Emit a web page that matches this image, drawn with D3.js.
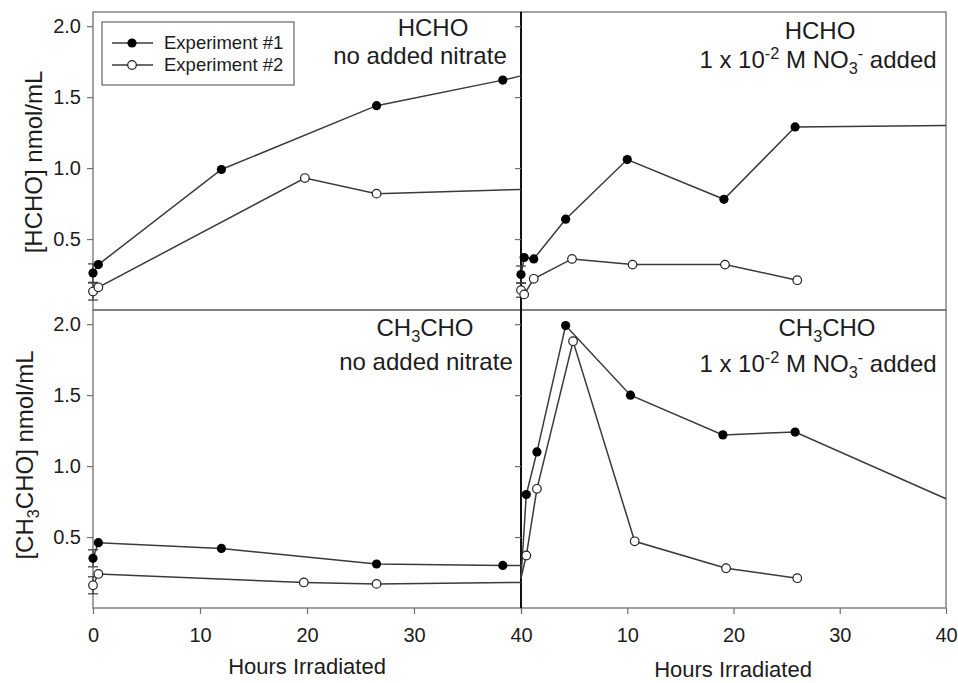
<!DOCTYPE html>
<html>
<head>
<meta charset="utf-8">
<script src="https://cdn.jsdelivr.net/npm/d3@7"></script>
<style>
  body { margin: 0; background: #fff; }
  svg { font-family: "Liberation Sans", Arial, sans-serif; }
</style>
</head>
<body>
<svg width="958" height="683"></svg>
<script>
// ---- data (hours, nmol/mL) ----
var hourTicks = [0, 10, 20, 30, 40];
var concTicks = [0.5, 1.0, 1.5, 2.0];
var seriesNames = ["Experiment #1", "Experiment #2"];

// HCHO, no added nitrate
var hchoPlainExp1 = [[0, 0.26], [0.5, 0.32], [12, 0.99], [26.5, 1.44], [38.3, 1.62]];
var hchoPlainExp2 = [[0, 0.13], [0.5, 0.16], [19.8, 0.93], [26.5, 0.82]];
var hchoPlainExp1Edge = [[40, 1.65]];
var hchoPlainExp2Edge = [[40, 0.85]];
var hchoPlainErr = [0.065, 0.06];

// HCHO, nitrate added
var hchoNitrateExp1 = [[0, 0.25], [0.3, 0.37], [1.2, 0.36], [4.2, 0.64], [10, 1.06], [19.1, 0.78], [25.8, 1.29]];
var hchoNitrateExp2 = [[0, 0.14], [0.3, 0.11], [1.2, 0.22], [4.8, 0.36], [10.5, 0.32], [19.2, 0.32], [26, 0.21]];
var hchoNitrateExp1Edge = [[40, 1.30]];
var hchoNitrateErr = [0.06, 0.05];

// CH3CHO, no added nitrate
var acetPlainExp1 = [[0, 0.35], [0.5, 0.46], [12, 0.42], [26.5, 0.31], [38.3, 0.30]];
var acetPlainExp2 = [[0, 0.16], [0.5, 0.24], [19.7, 0.18], [26.5, 0.17]];
var acetPlainExp1Edge = [[40, 0.30]];
var acetPlainExp2Edge = [[40, 0.18]];
var acetPlainErr = [0.06, 0.06];

// CH3CHO, nitrate added
var acetNitrateLead = [[0, 0.21]];
var acetNitrateExp1 = [[0.5, 0.80], [1.5, 1.10], [4.2, 1.99], [10.3, 1.50], [19, 1.22], [25.8, 1.24]];
var acetNitrateExp2 = [[0.5, 0.37], [1.5, 0.84], [4.9, 1.88], [10.7, 0.47], [19.3, 0.28], [26, 0.21]];
var acetNitrateExp1Edge = [[40, 0.77]];

var svg = d3.select("svg");
var ink = "#1c1c1c", lineCol = "#3a3a3a", frameCol = "#707070";

// scales
var xLeft = d3.scaleLinear().domain([0, 40]).range([93, 521]);
var xRight = d3.scaleLinear().domain([0, 40]).range([521, 946]);
var yTop = d3.scaleLinear().domain([0, 2.1]).range([310, 12]);
var yBot = d3.scaleLinear().domain([0, 2.1]).range([608, 310]);

var panels = [
  {x: xLeft, y: yTop, s1: hchoPlainExp1, s2: hchoPlainExp2, e1: hchoPlainExp1Edge, e2: hchoPlainExp2Edge, lead: [], err: hchoPlainErr},
  {x: xRight, y: yTop, s1: hchoNitrateExp1, s2: hchoNitrateExp2, e1: hchoNitrateExp1Edge, e2: [], lead: [], err: hchoNitrateErr},
  {x: xLeft, y: yBot, s1: acetPlainExp1, s2: acetPlainExp2, e1: acetPlainExp1Edge, e2: acetPlainExp2Edge, lead: [], err: acetPlainErr},
  {x: xRight, y: yBot, s1: acetNitrateExp1, s2: acetNitrateExp2, e1: acetNitrateExp1Edge, e2: [], lead: acetNitrateLead, err: null}
];

// frames
panels.forEach(function(p){
  svg.append("rect")
    .attr("x", p.x.range()[0]).attr("y", p.y.range()[1])
    .attr("width", p.x.range()[1] - p.x.range()[0])
    .attr("height", p.y.range()[0] - p.y.range()[1])
    .attr("fill", "none").attr("stroke", frameCol).attr("stroke-width", 1.3);
});
// darker divider between left and right
svg.append("line").attr("x1", 521).attr("x2", 521).attr("y1", 12).attr("y2", 608)
  .attr("stroke", "#111").attr("stroke-width", 2);

// axes
function styleAxis(g){
  g.select(".domain").remove();
  g.selectAll(".tick line").attr("stroke", frameCol).attr("stroke-width", 1.2);
  g.selectAll(".tick text").attr("fill", ink).style("font-size", "20px")
    .style("font-family", "'Liberation Sans', Arial, sans-serif");
}
panels.forEach(function(p, i){
  var left = p.x === xLeft;
  var ya = d3.axisLeft(p.y).tickValues(concTicks).tickSize(6).tickPadding(6)
    .tickFormat(left ? d3.format(".1f") : "");
  svg.append("g").attr("transform", "translate(" + p.x.range()[0] + ",0)").call(ya).call(styleAxis);
  if (i >= 2) {
    var xa = d3.axisBottom(p.x).tickValues(hourTicks).tickSize(6).tickPadding(14)
      .tickFormat(function(d){ return (!left && d === 0) ? "" : d; });
    svg.append("g").attr("transform", "translate(0," + p.y.range()[0] + ")").call(xa).call(styleAxis);
  }
});

// series
panels.forEach(function(p){
  var line = d3.line().x(function(d){ return p.x(d[0]); }).y(function(d){ return p.y(d[1]); });
  var path1 = p.lead.concat(p.s1, p.e1), path2 = p.lead.concat(p.s2, p.e2);
  [path2, path1].forEach(function(d){
    svg.append("path").datum(d).attr("d", line)
      .attr("fill", "none").attr("stroke", lineCol).attr("stroke-width", 1.5);
  });
  // error bars on the first sample
  if (p.err) {
    [p.s1[0], p.s2[0]].forEach(function(d, k){
      var cx = p.x(d[0]), lo = p.y(d[1] - p.err[k]), hi = p.y(d[1] + p.err[k]);
      var g = svg.append("g").attr("stroke", lineCol).attr("stroke-width", 1.2);
      g.append("line").attr("x1", cx).attr("x2", cx).attr("y1", lo).attr("y2", hi);
      g.append("line").attr("x1", cx - 5).attr("x2", cx + 5).attr("y1", lo).attr("y2", lo);
      g.append("line").attr("x1", cx - 5).attr("x2", cx + 5).attr("y1", hi).attr("y2", hi);
    });
  }
  svg.append("g").selectAll("circle").data(p.s2).enter().append("circle")
    .attr("cx", function(d){ return p.x(d[0]); }).attr("cy", function(d){ return p.y(d[1]); })
    .attr("r", 4.3).attr("fill", "#fff").attr("stroke", "#222").attr("stroke-width", 1.2);
  svg.append("g").selectAll("circle").data(p.s1).enter().append("circle")
    .attr("cx", function(d){ return p.x(d[0]); }).attr("cy", function(d){ return p.y(d[1]); })
    .attr("r", 4.6).attr("fill", "#000");
});

// rich text helper: segments with optional sub / sup
function rich(x, y, segs, size, anchor, rotate){
  var t = svg.append("text").attr("fill", ink).style("font-size", size + "px")
    .attr("text-anchor", anchor || "middle");
  if (rotate) t.attr("transform", "translate(" + x + "," + y + ") rotate(-90)");
  else t.attr("x", x).attr("y", y);
  var cur = 0;
  segs.forEach(function(s){
    var shift = s.sub ? 6 : (s.sup ? -9 : 0);
    t.append("tspan").attr("dy", shift - cur)
      .style("font-size", (s.sub || s.sup) ? (size * 0.68) + "px" : size + "px")
      .text(s.t);
    cur = shift;
  });
  return t;
}
var nitrateLine = [{t: "1 x 10"}, {t: "-2", sup: true}, {t: " M NO"}, {t: "3", sub: true}, {t: "-", sup: true}, {t: " added"}];
var acetName = [{t: "CH"}, {t: "3", sub: true}, {t: "CHO"}];

rich(433, 36, [{t: "HCHO"}], 24);
rich(420, 64, [{t: "no added nitrate"}], 24);
rich(820, 39, [{t: "HCHO"}], 24);
rich(818, 68, nitrateLine, 24);
rich(425, 336, acetName, 24);
rich(426, 370, [{t: "no added nitrate"}], 24);
rich(827, 336, acetName, 24);
rich(818, 372, nitrateLine, 24);

// axis titles
rich(42, 162, [{t: "[HCHO] nmol/mL"}], 24, "middle", true);
rich(33, 455, [{t: "[CH"}, {t: "3", sub: true}, {t: "CHO]  nmol/mL"}], 24, "middle", true);
rich(307, 674, [{t: "Hours Irradiated"}], 22);
rich(733, 677, [{t: "Hours Irradiated"}], 22);

// legend
var lg = svg.append("g");
lg.append("rect").attr("x", 102).attr("y", 22).attr("width", 192).attr("height", 63)
  .attr("fill", "#fff").attr("stroke", frameCol).attr("stroke-width", 1.3);
seriesNames.forEach(function(name, i){
  var yy = 43 + i * 22;
  lg.append("line").attr("x1", 112).attr("x2", 153).attr("y1", yy).attr("y2", yy)
    .attr("stroke", lineCol).attr("stroke-width", 1.5);
  lg.append("circle").attr("cx", 132).attr("cy", yy).attr("r", i === 0 ? 4.6 : 4.3)
    .attr("fill", i === 0 ? "#000" : "#fff").attr("stroke", "#222").attr("stroke-width", i === 0 ? 0 : 1.2);
  lg.append("text").attr("x", 164).attr("y", yy + 6).attr("fill", ink)
    .style("font-size", "18.5px").text(name);
});
</script>
</body>
</html>
